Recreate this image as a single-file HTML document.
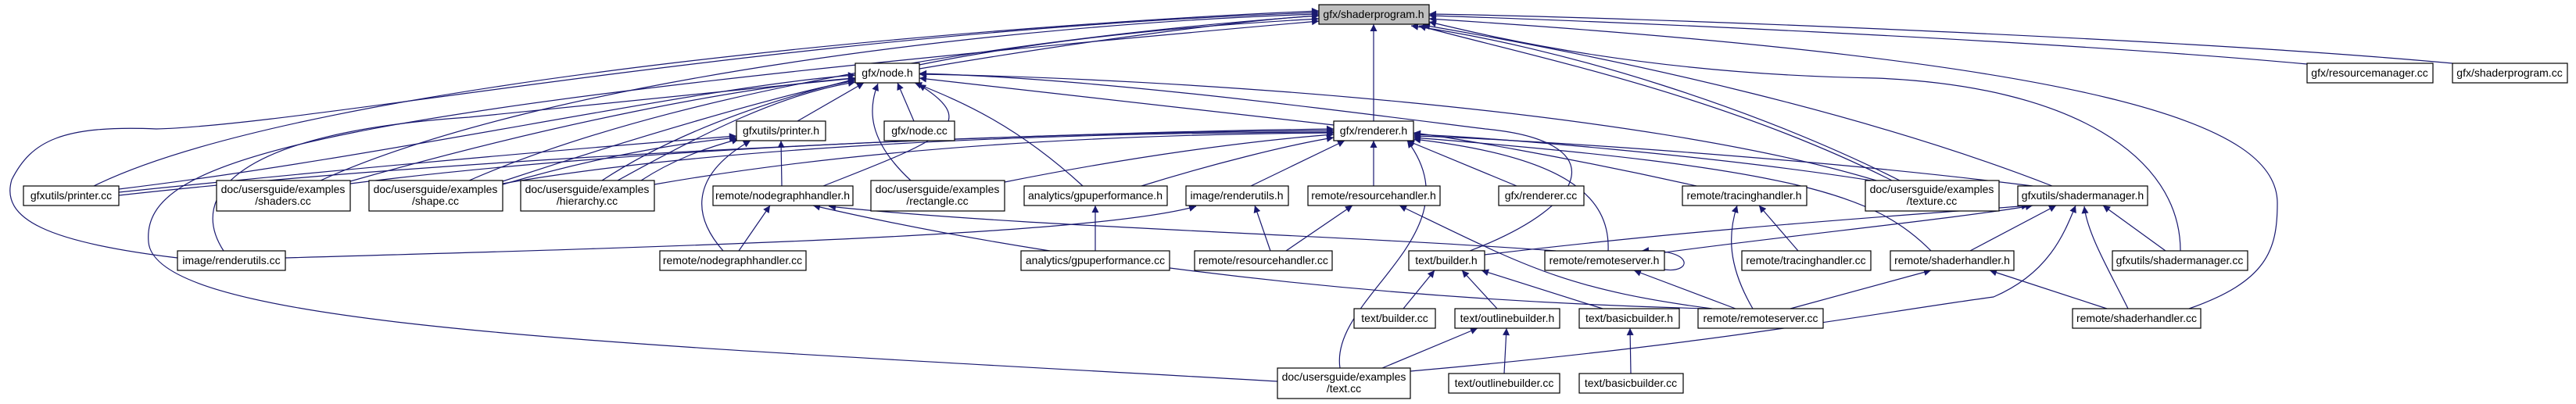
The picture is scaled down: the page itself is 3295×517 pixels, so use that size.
<!DOCTYPE html>
<html><head><meta charset="utf-8"><style>
html,body{margin:0;padding:0;background:#fff;}
svg{display:block;}
text{font-family:"Liberation Sans",sans-serif;font-size:14px;fill:#000;}
.e{fill:none;stroke:#191970;stroke-width:1.2;marker-end:url(#a);}
.n{fill:#fff;stroke:#000;stroke-width:1.2;}
</style></head><body>
<svg width="3295" height="517" viewBox="0 0 3295 517" xmlns="http://www.w3.org/2000/svg">
<defs><marker id="a" viewBox="0 0 10 10" refX="10" refY="5" markerWidth="11" markerHeight="9" markerUnits="userSpaceOnUse" orient="auto"><path d="M0,0 L10,5 L0,10 z" fill="#191970"/></marker></defs>
<g>
<!-- to shaderprogram.h -->
<path class="e" d="M1176,88 C1400,50 1600,25 1687,20"/>
<path class="e" d="M1757,155 L1757,31"/>
<path class="e" d="M120,238 C400,100 1300,30 1687,14"/>
<path class="e" d="M227,330 C60,310 0,280 15,230 C40,180 80,160 200,165 C400,160 1000,40 1687,16"/>
<path class="e" d="M410,231 C700,100 1300,30 1687,18"/>
<path class="e" d="M600,231 C900,100 1400,40 1687,20"/>
<path class="e" d="M770,231 C1000,80 1400,40 1687,24"/>
<path class="e" d="M1634,488 C800,440 200,420 190,310 C180,200 400,140 1687,27"/>
<path class="e" d="M2951,82 C2600,50 2000,25 1828,20"/>
<path class="e" d="M3137,81 C2800,50 2100,22 1828,18"/>
<path class="e" d="M2789,321 C2789,200 2650,110 2400,100 C2100,95 1900,45 1828,28"/>
<path class="e" d="M2800,395 C2900,360 2913,320 2913,260 C2913,160 2700,80 1828,24"/>
<path class="e" d="M2420,231 C2200,120 1950,70 1815,33"/>
<path class="e" d="M2430,231 C2250,140 2000,60 1805,33"/>
<path class="e" d="M2625,238 C2400,150 2100,80 1820,32"/>
<!-- to node.h -->
<path class="e" d="M1020,155 L1105,106"/>
<path class="e" d="M1169,155 L1148,106"/>
<path class="e" d="M1053,238 C1200,180 1260,160 1175,108"/>
<path class="e" d="M1165,231 C1110,180 1110,140 1123,107"/>
<path class="e" d="M1385,238 C1300,160 1230,130 1170,106"/>
<path class="e" d="M1706,160 L1176,100"/>
<path class="e" d="M2400,231 C2100,140 1500,100 1176,95"/>
<path class="e" d="M1880,321 C2040,260 2060,180 1900,165 C1700,140 1400,100 1176,94"/>
<path class="e" d="M152,242 C500,200 900,110 1094,96"/>
<path class="e" d="M448,232 C700,160 950,110 1094,100"/>
<path class="e" d="M643,232 C800,180 1000,120 1094,103"/>
<path class="e" d="M790,231 C900,170 1000,120 1094,105"/>
<path class="e" d="M286,321 C240,250 300,170 600,150 C800,130 1000,110 1094,100"/>
<!-- to printer.h -->
<path class="e" d="M1000,238 L999,180"/>
<path class="e" d="M925,321 C880,270 890,220 960,180"/>
<path class="e" d="M152,246 C500,210 800,185 942,174"/>
<path class="e" d="M643,236 C750,205 850,185 942,176"/>
<path class="e" d="M820,231 C860,205 900,190 945,178"/>
<!-- to renderer.h -->
<path class="e" d="M1757,238 L1757,180"/>
<path class="e" d="M1940,238 L1800,180"/>
<path class="e" d="M2170,238 C2000,200 1850,175 1808,170"/>
<path class="e" d="M2400,232 C2200,200 1900,175 1808,172"/>
<path class="e" d="M2600,238 C2300,200 1900,176 1808,174"/>
<path class="e" d="M2470,321 C2400,250 2300,215 1808,176"/>
<path class="e" d="M2057,321 C2060,250 2000,200 1808,178"/>
<path class="e" d="M1714,471 C1700,380 1890,300 1800,180"/>
<path class="e" d="M1460,238 C1550,210 1650,185 1706,176"/>
<path class="e" d="M1600,238 L1720,180"/>
<path class="e" d="M1285,233 C1450,200 1600,180 1706,172"/>
<path class="e" d="M152,250 C600,200 1300,170 1706,165"/>
<path class="e" d="M448,235 C800,190 1300,170 1706,167"/>
<path class="e" d="M643,235 C900,190 1300,170 1706,169"/>
<path class="e" d="M837,236 C1100,190 1400,172 1706,170"/>
<!-- others -->
<path class="e" d="M945,321 L985,263"/>
<path class="e" d="M2185,395 C1600,380 1200,300 1040,263"/>
<path class="e" d="M1990,321 C1700,300 1300,290 1060,264"/>
<path class="e" d="M365,330 C900,315 1400,300 1530,264"/>
<path class="e" d="M1625,321 L1605,263"/>
<path class="e" d="M1401,321 L1401,263"/>
<path class="e" d="M1645,321 L1730,263"/>
<path class="e" d="M2190,395 C2000,370 1950,340 1790,263"/>
<path class="e" d="M2300,321 L2250,263"/>
<path class="e" d="M2242,395 C2210,340 2210,300 2222,263"/>
<path class="e" d="M2220,395 L2090,346"/>
<path class="e" d="M2129,345 C2165,350 2168,318 2100,321"/>
<path class="e" d="M2290,395 L2470,346"/>
<path class="e" d="M2695,395 L2545,346"/>
<path class="e" d="M2520,321 L2630,263"/>
<path class="e" d="M2770,321 L2690,263"/>
<path class="e" d="M2722,395 C2700,350 2670,300 2666,264"/>
<path class="e" d="M1804,475 C2200,440 2400,400 2550,380 C2620,350 2640,300 2655,263"/>
<path class="e" d="M2129,323 C2300,300 2500,280 2600,263"/>
<path class="e" d="M1899,326 C2200,290 2450,275 2595,263"/>
<path class="e" d="M1795,395 L1835,346"/>
<path class="e" d="M1915,395 L1870,346"/>
<path class="e" d="M2050,395 L1895,346"/>
<path class="e" d="M1768,471 L1890,420"/>
<path class="e" d="M1924,478 L1927,420"/>
<path class="e" d="M2086,478 L2085,420"/>
</g>
<g>
<rect x="1687" y="6" width="141" height="25" fill="#bfbfbf" stroke="#000" stroke-width="1.2"/><text x="1757" y="23" text-anchor="middle">gfx/shaderprogram.h</text>
<rect class="n" x="1094" y="81" width="82" height="25"/><text x="1135" y="98" text-anchor="middle">gfx/node.h</text>
<rect class="n" x="2951" y="81" width="161" height="25"/><text x="3031" y="98" text-anchor="middle">gfx/resourcemanager.cc</text>
<rect class="n" x="3137" y="81" width="147" height="25"/><text x="3210" y="98" text-anchor="middle">gfx/shaderprogram.cc</text>
<rect class="n" x="942" y="155" width="114" height="25"/><text x="999" y="172" text-anchor="middle">gfxutils/printer.h</text>
<rect class="n" x="1131" y="155" width="90" height="25"/><text x="1176" y="172" text-anchor="middle">gfx/node.cc</text>
<rect class="n" x="1706" y="155" width="102" height="25"/><text x="1757" y="172" text-anchor="middle">gfx/renderer.h</text>
<rect class="n" x="30" y="238" width="122" height="25"/><text x="91" y="255" text-anchor="middle">gfxutils/printer.cc</text>
<rect class="n" x="277" y="231" width="171" height="39"/><text x="362" y="247" text-anchor="middle">doc/usersguide/examples</text><text x="362" y="262" text-anchor="middle">/shaders.cc</text>
<rect class="n" x="472" y="231" width="171" height="39"/><text x="557" y="247" text-anchor="middle">doc/usersguide/examples</text><text x="557" y="262" text-anchor="middle">/shape.cc</text>
<rect class="n" x="666" y="231" width="171" height="39"/><text x="751" y="247" text-anchor="middle">doc/usersguide/examples</text><text x="751" y="262" text-anchor="middle">/hierarchy.cc</text>
<rect class="n" x="912" y="238" width="179" height="25"/><text x="1001" y="255" text-anchor="middle">remote/nodegraphhandler.h</text>
<rect class="n" x="1114" y="231" width="171" height="39"/><text x="1199" y="247" text-anchor="middle">doc/usersguide/examples</text><text x="1199" y="262" text-anchor="middle">/rectangle.cc</text>
<rect class="n" x="1310" y="238" width="183" height="25"/><text x="1401" y="255" text-anchor="middle">analytics/gpuperformance.h</text>
<rect class="n" x="1517" y="238" width="131" height="25"/><text x="1582" y="255" text-anchor="middle">image/renderutils.h</text>
<rect class="n" x="1673" y="238" width="169" height="25"/><text x="1757" y="255" text-anchor="middle">remote/resourcehandler.h</text>
<rect class="n" x="1917" y="238" width="109" height="25"/><text x="1971" y="255" text-anchor="middle">gfx/renderer.cc</text>
<rect class="n" x="2152" y="238" width="159" height="25"/><text x="2231" y="255" text-anchor="middle">remote/tracinghandler.h</text>
<rect class="n" x="2386" y="231" width="171" height="39"/><text x="2471" y="247" text-anchor="middle">doc/usersguide/examples</text><text x="2471" y="262" text-anchor="middle">/texture.cc</text>
<rect class="n" x="2581" y="238" width="166" height="25"/><text x="2664" y="255" text-anchor="middle">gfxutils/shadermanager.h</text>
<rect class="n" x="227" y="321" width="138" height="25"/><text x="296" y="338" text-anchor="middle">image/renderutils.cc</text>
<rect class="n" x="844" y="321" width="187" height="25"/><text x="937" y="338" text-anchor="middle">remote/nodegraphhandler.cc</text>
<rect class="n" x="1306" y="321" width="190" height="25"/><text x="1401" y="338" text-anchor="middle">analytics/gpuperformance.cc</text>
<rect class="n" x="1528" y="321" width="176" height="25"/><text x="1616" y="338" text-anchor="middle">remote/resourcehandler.cc</text>
<rect class="n" x="1802" y="321" width="97" height="25"/><text x="1850" y="338" text-anchor="middle">text/builder.h</text>
<rect class="n" x="1976" y="321" width="153" height="25"/><text x="2052" y="338" text-anchor="middle">remote/remoteserver.h</text>
<rect class="n" x="2228" y="321" width="165" height="25"/><text x="2310" y="338" text-anchor="middle">remote/tracinghandler.cc</text>
<rect class="n" x="2418" y="321" width="158" height="25"/><text x="2497" y="338" text-anchor="middle">remote/shaderhandler.h</text>
<rect class="n" x="2702" y="321" width="173" height="25"/><text x="2788" y="338" text-anchor="middle">gfxutils/shadermanager.cc</text>
<rect class="n" x="1732" y="395" width="104" height="25"/><text x="1784" y="412" text-anchor="middle">text/builder.cc</text>
<rect class="n" x="1861" y="395" width="134" height="25"/><text x="1928" y="412" text-anchor="middle">text/outlinebuilder.h</text>
<rect class="n" x="2020" y="395" width="128" height="25"/><text x="2084" y="412" text-anchor="middle">text/basicbuilder.h</text>
<rect class="n" x="2172" y="395" width="160" height="25"/><text x="2252" y="412" text-anchor="middle">remote/remoteserver.cc</text>
<rect class="n" x="2651" y="395" width="164" height="25"/><text x="2733" y="412" text-anchor="middle">remote/shaderhandler.cc</text>
<rect class="n" x="1634" y="471" width="170" height="39"/><text x="1719" y="487" text-anchor="middle">doc/usersguide/examples</text><text x="1719" y="502" text-anchor="middle">/text.cc</text>
<rect class="n" x="1853" y="478" width="142" height="25"/><text x="1924" y="495" text-anchor="middle">text/outlinebuilder.cc</text>
<rect class="n" x="2020" y="478" width="133" height="25"/><text x="2086" y="495" text-anchor="middle">text/basicbuilder.cc</text>
</g>
</svg>
</body></html>
